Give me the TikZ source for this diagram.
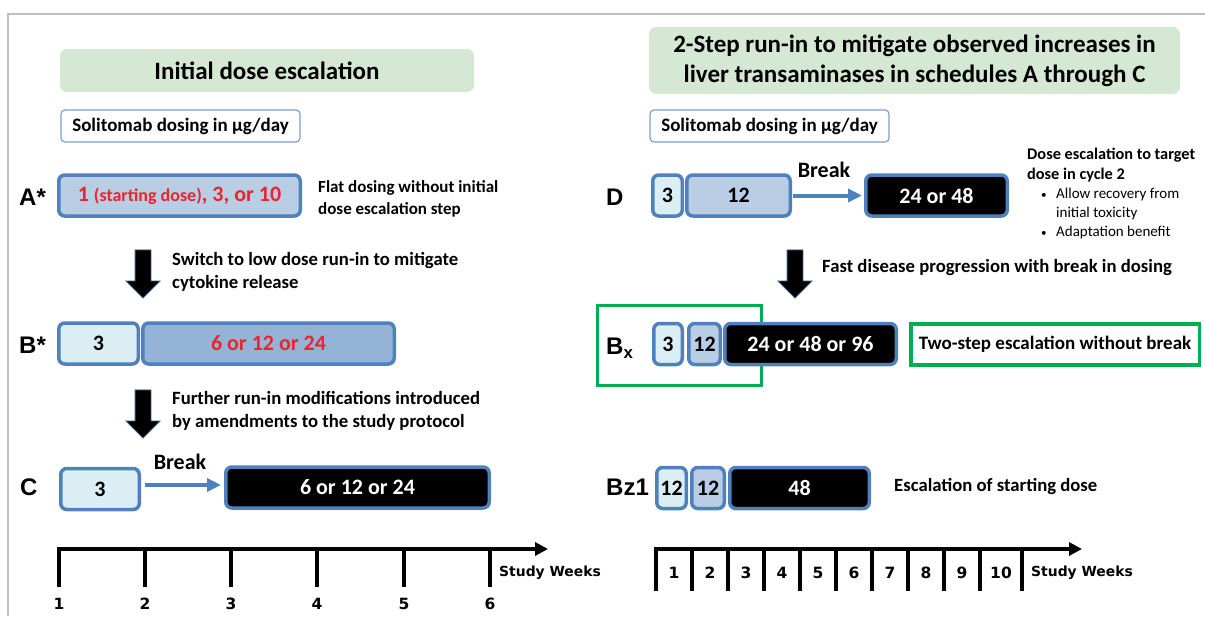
\documentclass[tikz,border=0pt]{standalone}
\usepackage{fontspec}
\setmainfont{Carlito}
\newfontfamily\axisfont{DejaVu Sans}
\newfontfamily\labelfont{Liberation Sans}
\usetikzlibrary{positioning,shapes.arrows,arrows.meta}

\definecolor{titlegreen}{HTML}{D5E8D4}
\definecolor{doseblue}{HTML}{4F81BD}
\definecolor{paleblue}{HTML}{DBEEF4}
\definecolor{lightblue}{HTML}{B9CDE5}
\definecolor{midblue}{HTML}{95B3D7}
\definecolor{dosered}{HTML}{E8262C}
\definecolor{notegreen}{HTML}{00B050}
\definecolor{framegray}{HTML}{BFBFBF}

\tikzset{
  titlebox/.style={fill=titlegreen, rounded corners=7pt, align=center, inner sep=0pt,
    font=\fontsize{25}{30}\selectfont\bfseries},
  unitbox/.style={draw=doseblue!75, line width=1.2pt, fill=white, rounded corners=4pt,
    minimum width=239pt, minimum height=32pt, inner sep=0pt, font=\fontsize{19}{23}\selectfont\bfseries},
  dosebox/.style={draw=doseblue, line width=3.5pt, rounded corners=6pt, minimum height=41pt,
    inner sep=0pt, font=\fontsize{22}{26}\selectfont\bfseries},
  paledose/.style={dosebox, fill=paleblue},
  lightdose/.style={dosebox, fill=lightblue},
  middose/.style={dosebox, fill=midblue},
  fulldose/.style={dosebox, fill=black, text=white},
  rowlabel/.style={font=\labelfont\bfseries\fontsize{24}{28}\selectfont, inner sep=0pt, anchor=west},
  sidenote/.style={font=\fontsize{18.7}{22.5}\selectfont\bfseries, align=left, inner sep=0pt, anchor=west},
  switcharrow/.style={single arrow, fill=black, draw=doseblue!70!black, line width=0.8pt, minimum height=48pt,
    inner xsep=0pt, inner ysep=7.5pt, single arrow head extend=9pt, rotate=-90},
  breakarrow/.style={draw=doseblue, line width=4pt, -{Triangle[length=14pt,width=13pt]}},
  breaklabel/.style={font=\fontsize{22}{26}\selectfont\bfseries, inner sep=0pt},
  axisline/.style={line width=4pt, -{Triangle[length=13pt,width=13pt]}},
  weektick/.style={line width=3.5pt},
  weeklbl/.style={font=\axisfont\bfseries\fontsize{15.5}{18}\selectfont, inner sep=0pt},
  weekname/.style={font=\axisfont\bfseries\fontsize{13.9}{16}\selectfont, inner sep=0pt, anchor=west},
}

\begin{document}
\begin{tikzpicture}[x=1pt,y=-1pt]
	\useasboundingbox (0,0) rectangle (1205,616);
	\draw[framegray, line width=1.6pt] (8,616) -- (8,14) -- (1205,14);

	% Headings of both halves
	\node[titlebox, minimum width=414pt, minimum height=43pt] (lefttitle) at (267,70.5) {Initial dose escalation};
	\node[titlebox, minimum width=531pt, minimum height=67pt] (righttitle) at (914.5,60.5)
		{2-Step run-in to mitigate observed increases in\\liver transaminases in schedules A through C};
	\node[unitbox] (leftunit) at (180.5,126) {Solitomab dosing in µg/day};
	\node[unitbox] (rightunit) at (769.5,126) {Solitomab dosing in µg/day};

	% Schedule A*
	\node[rowlabel] (alabel) at (19,197) {A*};
	\node[lightdose, minimum width=241.5pt, text=dosered] (a1) at (179.5,195.5)
		{1 {\fontsize{18}{22}\selectfont(starting dose)}, 3, or 10};
	\node[sidenote, font=\fontsize{17}{22}\selectfont\bfseries] (anote) at (318,199) {Flat dosing without initial\\dose escalation step};

	\node[switcharrow] (sw1) at (143,270) {};
	\node[sidenote] (sw1note) at (172,272) {Switch to low dose run-in to mitigate\\cytokine release};

	% Schedule B*
	\node[rowlabel] (blabel) at (19,345) {B*};
	\node[paledose, minimum width=79.5pt] (b3) at (98.5,343.5) {3};
	\node[middose, minimum width=251.5pt, text=dosered, right=1pt of b3] (b24) {6 or 12 or 24};

	\node[switcharrow] (sw2) at (143,410) {};
	\node[sidenote] (sw2note) at (172,411) {Further run-in modifications introduced\\by amendments to the study protocol};

	% Schedule C
	\node[rowlabel] (clabel) at (20,487) {C};
	\node[paledose, minimum width=78.5pt] (c3) at (100,489) {3};
	\node[fulldose, minimum width=263.5pt] (c24) at (357.5,487.5) {6 or 12 or 24};
	\draw[breakarrow, shorten <=4pt, shorten >=3pt] ([yshift=4pt]c3.east) -- ([yshift=4pt]c3.east -| c24.west);
	\node[breaklabel] (cbreak) at (180,462) {Break};

	% Schedule D
	\node[rowlabel] (dlabel) at (606,197) {D};
	\node[paledose, minimum width=29.5pt] (d3) at (667.5,195.5) {3};
	\node[lightdose, minimum width=103.5pt, right=1pt of d3] (d12) {12};
	\node[fulldose, minimum width=141.5pt] (d48) at (936.5,195.5) {24 or 48};
	\draw[breakarrow, shorten <=1pt, shorten >=2pt] (d12.east) -- (d48.west);
	\node[breaklabel] (dbreak) at (824,170) {Break};
	\node[sidenote, font=\fontsize{16.3}{20}\selectfont\bfseries] (dnote) at (1027,165) {Dose escalation to target\\dose in cycle 2};
	\node[sidenote, font=\fontsize{15}{19}\selectfont] (dlist) at (1041,213.5)
		{\makebox[15pt][l]{\fontsize{11}{11}\selectfont\textbullet}Allow recovery from\\
		 \hspace*{15pt}initial toxicity\\
		 \makebox[15pt][l]{\fontsize{11}{11}\selectfont\textbullet}Adaptation benefit};

	\node[switcharrow] (sw3) at (795,270) {};
	\node[sidenote] (sw3note) at (822,268) {Fast disease progression with break in dosing};

	% Schedule Bx
	\draw[notegreen, line width=3.5pt] (597.5,305.5) rectangle (761.5,385.5);
	\node[rowlabel] (bxlabel) at (606,348) {B\textsubscript{x}};
	\node[paledose, minimum width=28.5pt] (bx3) at (668,344) {3};
	\node[lightdose, minimum width=31.5pt, right=3pt of bx3] (bx12) {12};
	\node[fulldose, minimum width=171.5pt, right=1pt of bx12] (bx96) {24 or 48 or 96};
	\node[dosebox, draw=notegreen, fill=white, minimum width=288.5pt, rounded corners=0pt,
		font=\fontsize{19}{23}\selectfont\bfseries] (bxnote) at (1055,344.5) {Two-step escalation without break};

	% Schedule Bz1
	\node[rowlabel] (bzlabel) at (606,487) {Bz1};
	\node[paledose, minimum width=29.5pt] (z12a) at (671.5,488) {12};
	\node[lightdose, minimum width=32.5pt, right=2pt of z12a] (z12b) {12};
	\node[fulldose, minimum width=139.5pt, right=2pt of z12b] (z48) {48};
	\node[sidenote] (bznote) at (894,487) {Escalation of starting dose};

	% Time axes in study weeks
	\foreach \x [count=\n] in {59,145,231,317,404,490} {
		\draw[weektick] (\x,549) -- (\x,587);
		\node[weeklbl] (lw\n) at (\x,604) {\n};
	}
	\draw[axisline] (57.25,549) -- (548,549);
	\node[weekname] (lweeks) at (499,573) {Study Weeks};

	\foreach \x in {656,692,728,764,800,836,872,908,944,980,1022}
		\draw[weektick] (\x,549) -- (\x,591);
	\foreach \x [count=\n] in {674,710,746,782,818,854,890,926,962,1001}
		\node[weeklbl] (rw\n) at (\x,573) {\n};
	\draw[axisline] (654.25,549) -- (1082,549);
	\node[weekname] (rweeks) at (1031,573) {Study Weeks};
\end{tikzpicture}
\end{document}
